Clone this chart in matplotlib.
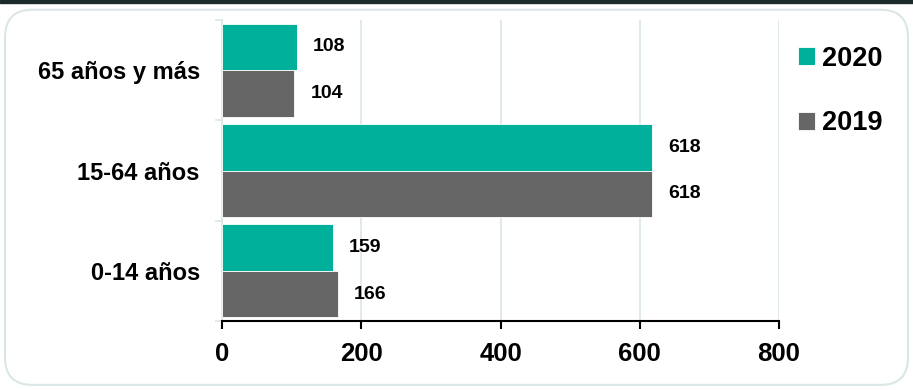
import numpy as np
import matplotlib.pyplot as plt
from matplotlib.patches import FancyBboxPatch, Rectangle

plt.rcParams['font.family'] = ['Liberation Sans', 'DejaVu Sans']

# Data
groups = ["0-14 años", "15-64 años", "65 años y más"]
values_2020 = [159, 618, 108]
values_2019 = [166, 618, 104]
series_labels = ["2020", "2019"]
xticks = [0, 200, 400, 600, 800]

teal = "#00b09b"
gray = "#666666"
grid_col = "#dbe6e6"

fig = plt.figure(figsize=(9.13, 3.9), dpi=100)
ax = fig.add_axes([0.2432, 0.1769, 0.61, 0.7718])

y = np.arange(len(groups))
h = 0.465
b20 = ax.barh(y + h / 2, values_2020, height=h, color=teal, edgecolor="white",
              linewidth=0.6, label=series_labels[0], zorder=3)
b19 = ax.barh(y - h / 2, values_2019, height=h, color=gray, edgecolor="white",
              linewidth=0.6, label=series_labels[1], zorder=3)

for bars in (b20, b19):
    for rect in bars:
        w = rect.get_width()
        ax.annotate(f"{w:.0f}", (w, rect.get_y() + rect.get_height() / 2),
                    xytext=(11.5, 0), textcoords="offset points",
                    ha="left", va="center", fontsize=14, fontweight="bold")

ax.set_xlim(0, 800)
ax.set_ylim(-0.5, 2.5)
ax.set_xticks(xticks)
ax.set_xticklabels([str(t) for t in xticks], fontsize=18.5, fontweight="bold")
ax.set_yticks(y)
ax.set_yticklabels(groups, fontsize=17, fontweight="bold")
ax.set_yticks([-0.5, 0.5, 1.5, 2.5], minor=True)
ax.tick_params(axis="y", which="major", length=0, pad=16)
ax.tick_params(axis="y", which="minor", length=5, color=grid_col, width=1.2)
ax.tick_params(axis="x", direction="out", length=6, width=1.5, pad=9, color="black")

ax.xaxis.grid(True, color=grid_col, linewidth=1.2, zorder=0)
ax.set_axisbelow(True)
for s in ("top", "right"):
    ax.spines[s].set_visible(False)
ax.spines["left"].set_color(grid_col)
ax.spines["left"].set_linewidth(1.2)
ax.spines["bottom"].set_color("black")
ax.spines["bottom"].set_linewidth(1.5)

leg = ax.legend(handles=[b20, b19], loc="upper left", bbox_to_anchor=(0.99, 0.995),
                frameon=False, handlelength=0.65, handleheight=0.65,
                handletextpad=0.25, labelspacing=1.42,
                prop={"size": 19.5, "weight": "bold"})

# rounded outer frame and the dark band at the top
fig.patches.append(FancyBboxPatch((0.0055, 0.013), 0.989, 0.962,
                                  boxstyle="round,pad=0,rounding_size=0.03",
                                  transform=fig.transFigure, fill=False,
                                  edgecolor=grid_col, linewidth=1.5,
                                  mutation_aspect=913 / 390))
fig.patches.append(Rectangle((0, 0.992), 1, 0.008, transform=fig.transFigure,
                             color="#1b2b2b"))

fig.savefig("out.png", dpi=100)
